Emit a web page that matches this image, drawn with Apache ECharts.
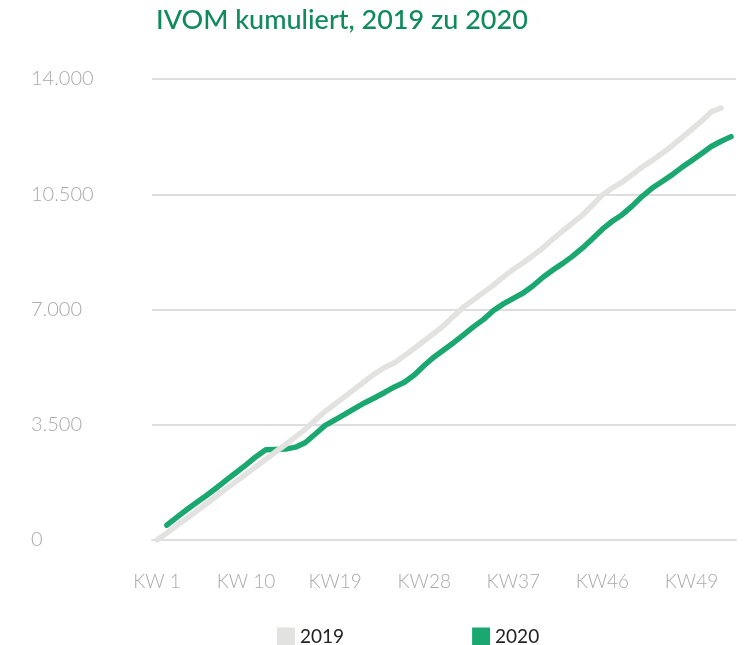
<!DOCTYPE html>
<html>
<head>
<meta charset="utf-8">
<script src="https://cdn.jsdelivr.net/npm/echarts@6/dist/echarts.min.js"></script>
<style>
  html, body { margin: 0; padding: 0; background: #fff; }
  #chart { width: 754px; height: 645px; }
</style>
</head>
<body>
<div id="chart"></div>
<script>
// cumulative counts per week
var values2019 = [0, 210, 440, 650, 880, 1100, 1330, 1560, 1780, 2000,
  2230, 2450, 2680, 2900, 3130, 3370, 3640, 3910, 4130, 4360,
  4590, 4820, 5050, 5240, 5380, 5600, 5820, 6050, 6280, 6520,
  6800, 7080, 7300, 7520, 7740, 7990, 8220, 8420, 8640, 8870,
  9140, 9390, 9630, 9870, 10170, 10480, 10690, 10870, 11090, 11320,
  11520, 11740, 11960, 12210, 12460, 12720, 13000, 13120, null];
var values2020 = [null, 450, 690, 920, 1140, 1350, 1580, 1820, 2050, 2280,
  2530, 2740, 2750, 2760, 2820, 2960, 3220, 3480, 3650, 3820,
  4000, 4170, 4320, 4480, 4650, 4790, 5010, 5300, 5560, 5780,
  6000, 6240, 6480, 6700, 6970, 7170, 7340, 7500, 7720, 7980,
  8200, 8400, 8620, 8870, 9150, 9440, 9680, 9880, 10140, 10430,
  10680, 10880, 11080, 11310, 11520, 11730, 11950, 12110, 12250];
var tickLabels = ['KW 1', 'KW 10', 'KW19', 'KW28', 'KW37', 'KW46', 'KW49'];
var tickEvery = 9;

var categories = [];
for (var i = 0; i < values2020.length; i++) {
  categories.push(String(i));
}

var chart = echarts.init(document.getElementById('chart'));
var option = {
  animation: false,
  textStyle: { fontFamily: 'Lato' },
  title: {
    text: 'IVOM kumuliert, 2019 zu 2020',
    left: 151,
    top: 2,
    textStyle: { color: '#0f8a5c', fontSize: 27, fontWeight: 500, fontFamily: 'Lato' }
  },
  grid: { left: 152, right: 18, top: 79, bottom: 105 },
  legend: {
    data: ['2019', '2020'],
    left: 272,
    top: 622,
    icon: 'rect',
    itemWidth: 18,
    itemHeight: 18,
    itemGap: 128,
    textStyle: { color: '#222', fontSize: 19, fontFamily: 'Lato' }
  },
  xAxis: {
    type: 'category',
    data: categories,
    boundaryGap: true,
    axisLine: { lineStyle: { color: '#dedede', width: 2 } },
    axisTick: { show: false },
    axisLabel: {
      interval: function (idx) { return idx % tickEvery === 0; },
      formatter: function (v, idx) { return tickLabels[idx / tickEvery] || ''; },
      margin: 32,
      color: '#aaaaaa',
      fontSize: 19,
      fontWeight: 300
    }
  },
  yAxis: {
    type: 'value',
    min: 0,
    max: 14000,
    interval: 3500,
    axisLine: { show: false },
    axisTick: { show: false },
    splitLine: { lineStyle: { color: '#dedede', width: 2 } },
    axisLabel: {
      align: 'left',
      margin: 121,
      color: '#aaaaaa',
      fontSize: 20,
      fontWeight: 300,
      formatter: function (v) { return String(v).replace(/\B(?=(\d{3})+(?!\d))/g, '.'); }
    }
  },
  series: [
    {
      name: '2019',
      type: 'line',
      data: values2019,
      z: 3,
      symbol: 'none',
      color: '#e2e2e0',
      lineStyle: { width: 5.5, color: '#e2e2e0', cap: 'round', join: 'round' }
    },
    {
      name: '2020',
      type: 'line',
      data: values2020,
      z: 2,
      symbol: 'none',
      color: '#1aa870',
      lineStyle: { width: 5.5, color: '#1aa870', cap: 'round', join: 'round' }
    }
  ]
};
chart.setOption(option);
window.addEventListener('resize', function () {
  chart.resize();
});
</script>
</body>
</html>
